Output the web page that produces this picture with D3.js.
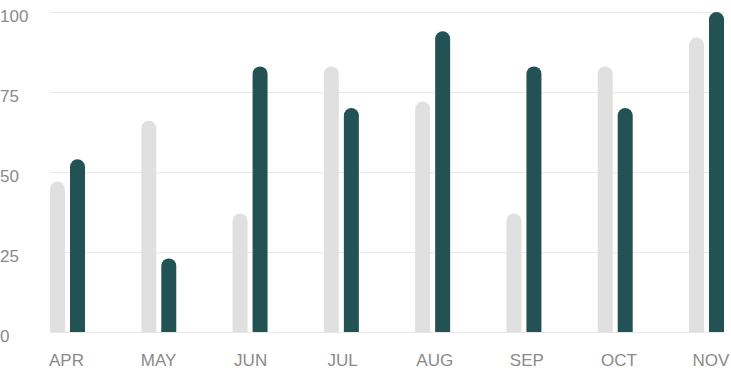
<!DOCTYPE html>
<html lang="en">
<head>
  <meta charset="UTF-8">
  <title>Chart</title>
  <style>
    body { margin: 0; background: #fff; }
    svg { display: block; }
    .label { font-family: "Liberation Sans", Roboto, sans-serif; font-size: 17px; fill: #8a8a8a; }
    .grid { stroke: #e8e8e8; stroke-width: 1; }
  </style>
</head>
<body>
  <script src="https://d3js.org/d3.v7.min.js"></script>
  <svg id="chart" width="731" height="374"></svg>
  <script>
    // data
    const months = ['APR', 'MAY', 'JUN', 'JUL', 'AUG', 'SEP', 'OCT', 'NOV']
    const seriesA = [47, 66, 37, 83, 72, 37, 83, 92]
    const seriesB = [54, 23, 83, 70, 94, 83, 70, 100]
    const yTicks = [0, 25, 50, 75, 100]

    const svg = d3.select('#chart')
    const plotLeft = 50, plotRight = 724, plotTop = 12, plotBottom = 332

    let y = d3.scaleLinear().domain([0, 100]).range([plotBottom, plotTop])
    let x = d3.scaleBand().domain(months).range([plotLeft, plotRight])
      .paddingInner(0.6166).paddingOuter(0)
    let xs = d3.scaleBand().domain(['a', 'b']).range([0, x.bandwidth()])
      .paddingInner(0.25).paddingOuter(0)
    // labels are spread a little wider than the bar groups
    let xl = d3.scalePoint().domain(months).range([66.5, 711])

    // grid
    svg.selectAll('.grid')
      .data(yTicks)
      .enter()
      .append('line')
      .attr('class', 'grid')
      .attr('x1', plotLeft)
      .attr('x2', plotRight)
      .attr('y1', d => Math.round(y(d)) + 0.5)
      .attr('y2', d => Math.round(y(d)) + 0.5)

    svg.selectAll('.ylab')
      .data(yTicks)
      .enter()
      .append('text')
      .attr('class', 'label ylab')
      .attr('x', 0)
      .attr('y', d => y(d) + 10)
      .text(d => d)

    // bars with rounded top
    function barPath (x0, w, v) {
      let r = w / 2
      let yt = y(v)
      return `M${x0},${plotBottom} L${x0},${yt + r} A${r},${r} 0 0 1 ${x0 + w},${yt + r} L${x0 + w},${plotBottom} Z`
    }

    let rows = months.map((m, i) => ({ m: m, a: seriesA[i], b: seriesB[i] }))
    let g = svg.selectAll('.group')
      .data(rows)
      .enter()
      .append('g')
      .attr('class', 'group')
      .attr('transform', d => `translate(${x(d.m)},0)`)
    g.append('path')
      .attr('d', d => barPath(xs('a'), xs.bandwidth(), d.a))
      .attr('fill', '#e0e0e0')
    g.append('path')
      .attr('d', d => barPath(xs('b'), xs.bandwidth(), d.b))
      .attr('fill', '#225253')

    svg.selectAll('.xlab')
      .data(months)
      .enter()
      .append('text')
      .attr('class', 'label xlab')
      .attr('x', d => xl(d))
      .attr('y', 366)
      .attr('text-anchor', 'middle')
      .text(d => d)
  </script>
</body>
</html>
